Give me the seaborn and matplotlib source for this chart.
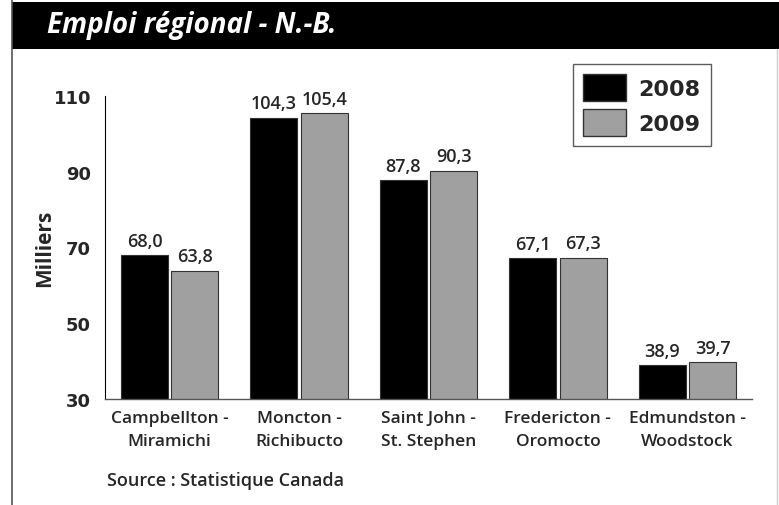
import matplotlib
matplotlib.use("Agg")
import matplotlib.pyplot as plt
import seaborn as sns
import pandas as pd
from matplotlib.patches import Rectangle
from matplotlib.lines import Line2D

regions = ["Campbellton -\nMiramichi", "Moncton -\nRichibucto", "Saint John -\nSt. Stephen",
           "Fredericton -\nOromocto", "Edmundston -\nWoodstock"]
years = ["2008", "2009"]
emploi_2008 = [68.0, 104.3, 87.8, 67.1, 38.9]
emploi_2009 = [63.8, 105.4, 90.3, 67.3, 39.7]
yticks = [30, 50, 70, 90, 110]

df = pd.DataFrame({
    "region": regions * 2,
    "annee": [years[0]] * 5 + [years[1]] * 5,
    "valeur": emploi_2008 + emploi_2009,
})

sns.set_style("white")
plt.rcParams["font.family"] = ["Open Sans", "DejaVu Sans"]
W = "semibold"

fig = plt.figure(figsize=(7.79, 5.06), dpi=100)
ax = fig.add_axes([105 / 779, 1 - 400 / 506, 647 / 779, 303 / 506])

sns.barplot(data=df, x="region", y="valeur", hue="annee", palette=["#000000", "#a0a0a0"],
            width=0.78, gap=0.07, edgecolor="#333333", linewidth=0.8, ax=ax, legend=False)

for cont in ax.containers:
    ax.bar_label(cont, labels=[f"{v:.1f}".replace(".", ",") for v in cont.datavalues],
                 padding=4, fontsize=13, fontweight=W)

ax.set_ylim(30, 110)
ax.set_xlim(-0.5, 4.5)
ax.set_yticks(yticks)
ax.set_yticklabels([str(t) for t in yticks], family="DejaVu Sans", fontweight="bold", fontsize=13)
ax.tick_params(axis="y", length=0, pad=10)
ax.tick_params(axis="x", length=0, pad=8)
for lab in ax.get_xticklabels():
    lab.set_linespacing(1.6)
    lab.set_fontsize(12.5)
    lab.set_fontweight(W)
ax.set_xlabel("")
ax.set_ylabel("Milliers", fontsize=15, fontweight="bold", labelpad=-1)
for s in ["top", "right"]:
    ax.spines[s].set_visible(False)
ax.spines["left"].set_linewidth(0.8)
ax.spines["left"].set_color("#000000")
ax.spines["bottom"].set_linewidth(1.0)
ax.spines["bottom"].set_color("#555555")

# title band
fig.patches.append(Rectangle((12 / 779, 1 - 50 / 506), 1, 47 / 506, transform=fig.transFigure,
                             facecolor="black", edgecolor="none", zorder=0))
fig.text(47 / 779, 1 - 26 / 506, "Emploi régional - N.-B.", color="white", fontsize=20,
         fontweight="bold", fontstyle="italic", va="center", ha="left")

# frame lines
fig.lines.append(Line2D([12 / 779, 12 / 779], [0, 1], transform=fig.transFigure, color="#555555", lw=1.2))
fig.lines.append(Line2D([777 / 779, 777 / 779], [0, 1 - 50 / 506], transform=fig.transFigure,
                        color="#cccccc", lw=1.0))

# legend
handles = [Rectangle((0, 0), 1, 1, facecolor=c, edgecolor="#333333") for c in ["#000000", "#a0a0a0"]]
leg = fig.legend(handles, years, loc="upper left", bbox_to_anchor=(573 / 779, 1 - 65 / 506),
                 frameon=True, fancybox=False, edgecolor="#333333", borderaxespad=0,
                 prop={"family": "DejaVu Sans", "weight": "bold", "size": 16},
                 handlelength=1.95, handleheight=1.5, handletextpad=0.55,
                 labelspacing=0.35, borderpad=0.45)
leg.get_frame().set_linewidth(1.0)

fig.text(107 / 779, 1 - 481 / 506, "Source : Statistique Canada", fontsize=13, fontweight=W,
         va="center", ha="left")

fig.savefig("out.png", dpi=100)
